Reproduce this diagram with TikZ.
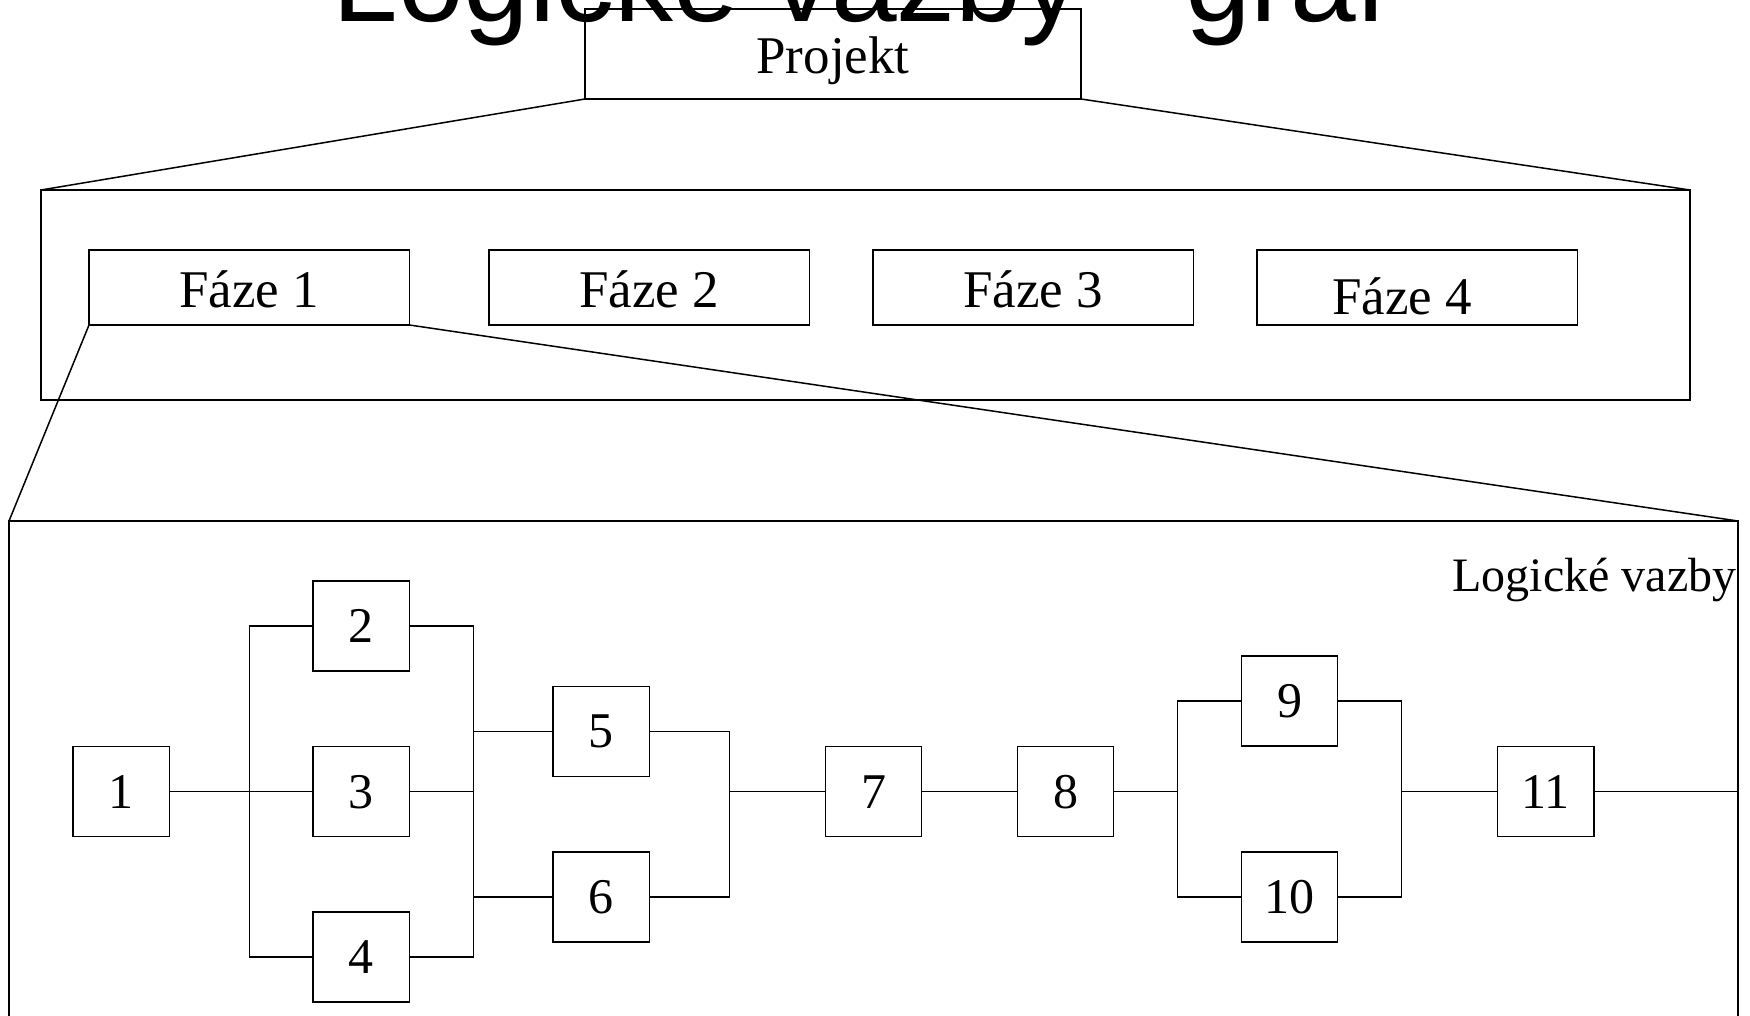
\documentclass[tikz,border=0pt]{standalone}
\usepackage{fontspec}
\setmainfont{Liberation Serif}
\newfontfamily\titlesans{Liberation Sans}
% lower a text inside its node without changing the node's size
\newcommand{\dropby}[2]{\raisebox{-#1}[\height][\depth]{#2}}

\begin{document}
\begin{tikzpicture}[x=1pt, y=-1pt, line width=1.5pt,
  frame/.style={draw, inner sep=0pt, outer sep=0pt},
  bigtext/.style={font=\fontsize{50}{60}\selectfont},
  headtext/.style={font=\fontsize{53}{64}\selectfont},
  phasebox/.style={frame, headtext, minimum width=320.5pt, minimum height=75pt},
  taskbox/.style={frame, bigtext, minimum width=96.4pt, minimum height=90pt}]
\path[use as bounding box, clip] (0,0) rectangle (1750,1015);

% slide title
\node[anchor=base west, inner sep=0pt, font=\titlesans\fontsize{118}{140}\selectfont]
  (title) at (332,21) {Logické vazby - graf};

% project level
\node[frame, headtext, minimum width=496pt, minimum height=90pt]
  (project) at (833,54) {\dropby{7pt}{Projekt}};

% phase level
\node[frame, minimum width=1649pt, minimum height=210pt] (phases) at (865.5,295) {};
\node[phasebox] (f1) at (249.25,287.5) {\dropby{2pt}{Fáze 1}};
\node[phasebox] (f2) at (649,287.5)    {\dropby{2pt}{Fáze 2}};
\node[phasebox] (f3) at (1033,287.5)   {\dropby{2pt}{Fáze 3}};
\node[phasebox] (f4) at (1417,287.5)   {\dropby{9pt}{Fáze 4}\kern30pt};
\draw (project.south west) -- (phases.north west);
\draw (project.south east) -- (phases.north east);

% activity network of phase 1
\node[frame, minimum width=1729pt, minimum height=579pt] (logic) at (873.5,810.5) {};
\draw (f1.south west) -- (logic.north west);
\draw (f1.south east) -- (logic.north east);
\node[anchor=base east, inner sep=0pt, font=\fontsize{48}{58}\selectfont]
  (logiclabel) at (1737,591) {Logické vazby};

\node[taskbox] (n1)  at (121.4,791.7)  {1};
\node[taskbox] (n2)  at (361.2,626)    {2};
\node[taskbox] (n3)  at (361.2,791.7)  {3};
\node[taskbox] (n4)  at (361.2,957)    {4};
\node[taskbox] (n5)  at (601.3,731.7)  {5};
\node[taskbox] (n6)  at (601.3,897)    {6};
\node[taskbox] (n7)  at (873.5,791.7)  {7};
\node[taskbox] (n8)  at (1065.5,791.7) {8};
\node[taskbox] (n9)  at (1289.5,701)   {9};
\node[taskbox] (n10) at (1289.5,897)   {10};
\node[taskbox] (n11) at (1545.7,791.7) {11};

% split and join points on the main line
\coordinate (s1) at (249.3,791.7);
\coordinate (j1) at (473.3,791.7);
\coordinate (j2) at (729.3,791.7);
\coordinate (s3) at (1177.7,791.7);
\coordinate (j3) at (1401.7,791.7);

\draw (n1.east) -- (n3.west);
\draw (n2.west) -| (s1) |- (n4.west);
\draw (n2.east) -| (j1) |- (n4.east);
\draw (n3.east) -- (j1);
\draw (j1 |- n5) -- (n5.west);
\draw (j1 |- n6) -- (n6.west);
\draw (n5.east) -| (j2) |- (n6.east);
\draw (j2) -- (n7.west);
\draw (n7.east) -- (n8.west);
\draw (n8.east) -- (s3);
\draw (n9.west) -| (s3) |- (n10.west);
\draw (n9.east) -| (j3) |- (n10.east);
\draw (j3) -- (n11.west);
\draw (n11.east) -- (n11.east -| logic.east);
\end{tikzpicture}
\end{document}
